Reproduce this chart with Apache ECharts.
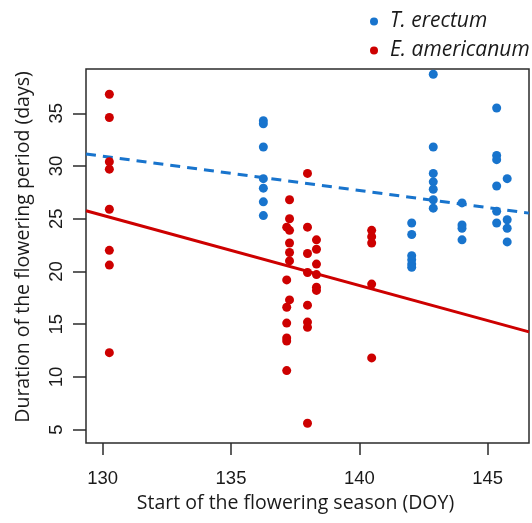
<!DOCTYPE html>
<html><head><meta charset="utf-8">
<script src="https://cdn.jsdelivr.net/npm/echarts@6/dist/echarts.min.js"></script>
<style>html,body{margin:0;padding:0;background:#fff}#c{width:532px;height:523px}</style>
</head><body><div id="c"></div>
<script>
const xTicks = [130, 135, 140, 145];
const yTicks = [5, 10, 15, 20, 25, 30, 35];
const xRange = [129.35, 146.61];
const yRange = [3.73, 39.2];

const erectumX = [136.26,136.26,136.26,136.26,136.26,136.26,136.26,
  142.04,142.04,142.04,142.04,142.04,142.04,
  142.88,142.88,142.88,142.88,142.88,142.88,142.88,
  144.0,144.0,144.0,144.0,
  145.35,145.35,145.35,145.35,145.35,145.35,
  145.76,145.76,145.76,145.76];
const erectumY = [34.3,34.0,31.8,28.8,27.9,26.6,25.3,
  24.6,23.5,21.5,21.1,20.7,20.4,
  38.7,31.8,29.3,28.5,27.8,26.8,26.0,
  26.5,24.4,24.1,23.0,
  35.5,31.0,30.6,28.1,25.7,24.6,
  28.8,24.9,24.1,22.8];

const americanumX = [130.26,130.26,130.26,130.26,130.26,130.26,130.26,130.26,
  137.17,137.17,137.17,137.17,137.17,137.17,137.17,
  137.28,137.28,137.28,137.28,137.28,137.28,137.28,
  137.98,137.98,137.98,137.98,137.98,137.98,137.98,137.98,
  138.33,138.33,138.33,138.33,138.33,138.33,
  140.48,140.48,140.48,140.48,140.48];
const americanumY = [36.8,34.6,30.4,29.7,25.9,22.0,20.6,12.3,
  24.2,19.2,16.6,15.1,13.7,13.4,10.6,
  26.8,25.0,23.9,22.7,21.8,21.0,17.3,
  29.3,24.2,21.7,19.9,16.8,15.2,14.7,5.6,
  23.0,22.1,20.7,19.7,18.5,18.2,
  23.9,23.3,22.7,18.8,11.8];

// fitted regression lines (endpoints read at plot edges)
const erectumFitX = [129.35, 146.61];
const erectumFitY = [31.14, 25.53];
const americanumFitX = [129.35, 146.61];
const americanumFitY = [25.76, 14.27];

const blue = '#1874CD', red = '#CD0000';
const zip = (a, b) => a.map((v, i) => [v, b[i]]);

const chart = echarts.init(document.getElementById('c'), null, {renderer: 'canvas'});
chart.setOption({
  animation: false,
  backgroundColor: '#fff',
  grid: {left: 86, right: 3, top: 69, bottom: 80, containLabel: false, outerBoundsMode: 'none',
         show: true, borderColor: '#2b2b2b', borderWidth: 1.5, backgroundColor: 'transparent'},
  legend: {
    orient: 'vertical', left: 365, top: 6, itemGap: 8,
    icon: 'circle', itemWidth: 8, itemHeight: 8,
    textStyle: {fontFamily: 'Open Sans', fontStyle: 'italic', fontSize: 21, color: '#1a1a1a', padding: [0,0,0,7]},
    data: ['T. erectum', 'E. americanum']
  },
  xAxis: {
    type: 'value', min: xRange[0], max: xRange[1],
    splitLine: {show: false},
    axisLine: {show: false},
    axisTick: {show: true, inside: false, length: 12, customValues: xTicks, lineStyle: {color: '#2b2b2b', width: 1.5}},
    axisLabel: {customValues: xTicks, margin: 26, fontFamily: 'Liberation Sans', fontSize: 18.5, color: '#1a1a1a'},
    name: 'Start of the flowering season (DOY)', nameLocation: 'middle', nameGap: 50,
    nameTextStyle: {fontFamily: 'Open Sans', fontSize: 19.5, color: '#1a1a1a', padding: [0, 24, 0, 0]}
  },
  yAxis: {
    type: 'value', min: yRange[0], max: yRange[1],
    splitLine: {show: false},
    axisLine: {show: false},
    axisTick: {show: true, inside: false, length: 13, customValues: yTicks, lineStyle: {color: '#2b2b2b', width: 1.5}},
    axisLabel: {customValues: yTicks, rotate: 90, margin: 20, fontFamily: 'Liberation Sans', fontSize: 18.5, color: '#1a1a1a'},
    name: 'Duration of the flowering period (days)', nameLocation: 'middle', nameGap: 53,
    nameTextStyle: {fontFamily: 'Open Sans', fontSize: 19.5, color: '#1a1a1a', padding: [0, 0, 0, 18]}
  },
  series: [
    {name: 'T. erectum', type: 'scatter', symbolSize: 9, itemStyle: {color: blue, opacity: 1}, data: zip(erectumX, erectumY), z: 3},
    {name: 'E. americanum', type: 'scatter', symbolSize: 9, itemStyle: {color: red, opacity: 1}, data: zip(americanumX, americanumY), z: 3},
    {name: 'erectum fit', type: 'line', showSymbol: false, symbol: 'none', clip: true,
     lineStyle: {color: blue, width: 3, type: [10, 7]}, data: zip(erectumFitX, erectumFitY), z: 2},
    {name: 'americanum fit', type: 'line', showSymbol: false, symbol: 'none', clip: true,
     lineStyle: {color: red, width: 3}, data: zip(americanumFitX, americanumFitY), z: 2}
  ]
});
</script></body></html>
